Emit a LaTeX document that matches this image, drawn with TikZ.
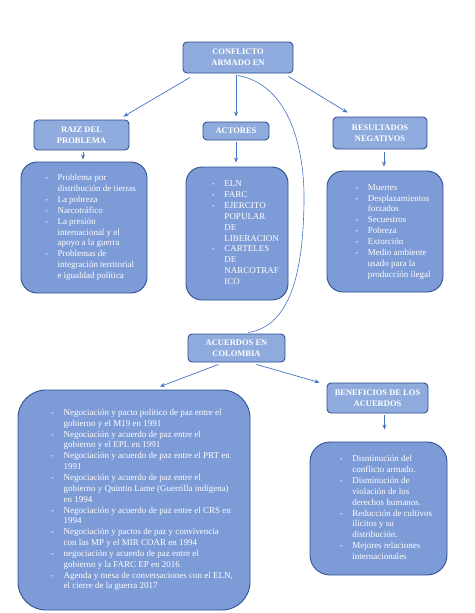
\documentclass[tikz,border=0pt]{standalone}
\usepackage{fontspec}
\setmainfont{Liberation Serif}
\usetikzlibrary{arrows.meta,calc}
\definecolor{hdrfill}{RGB}{143,170,220}
\definecolor{boxfill}{RGB}{125,155,214}
\definecolor{edgec}{RGB}{47,82,143}
\definecolor{arrowc}{RGB}{68,114,196}
\newcommand\dlist[1]{{\fontsize{9}{10.85}\selectfont\begin{tabular}{@{}l@{\hspace{9.5pt}}l@{}}#1\end{tabular}}}
\begin{document}
\begin{tikzpicture}[x=1pt,y=-1pt,
 hdr/.style={draw=edgec,fill=hdrfill,line width=0.9pt,rounded corners=4pt,inner sep=0pt,text=white,font=\bfseries\fontsize{8.5}{11}\selectfont,align=center},
 cbox/.style={draw=edgec,fill=boxfill,line width=0.9pt,rounded corners=16pt,inner sep=0pt,text=white},
 arr/.style={draw=arrowc,line width=0.7pt,-{Stealth[length=5pt,width=4pt]}},
 link/.style={draw=arrowc,line width=0.6pt}]
\fill[white] (0,0) rectangle (474,613);
\useasboundingbox (0,0) rectangle (474,613);
% headers
\node[hdr,minimum width=110pt,minimum height=31pt] (top) at (238,57.5) {CONFLICTO\\ARMADO EN};
\node[hdr,minimum width=95pt,minimum height=30pt] (raiz) at (81.5,135) {RAIZ DEL\\PROBLEMA};
\node[hdr,minimum width=66pt,minimum height=18pt] (actores) at (236,131) {ACTORES};
\node[hdr,minimum width=94pt,minimum height=32pt] (result) at (380,133) {RESULTADOS\\NEGATIVOS};
\node[hdr,minimum width=97pt,minimum height=28pt] (acu) at (236.5,348) {ACUERDOS EN\\COLOMBIA};
\node[hdr,minimum width=101pt,minimum height=30pt] (benef) at (377.5,398) {BENEFICIOS DE LOS\\ACUERDOS};
% content boxes
\node[cbox,minimum width=126pt,minimum height=131pt] (raizc) at (84,227.5) {\hspace{13pt}\dlist{- & Problema por\\ & distribución de tierras\\ - & La pobreza\\ - & Narcotráfico\\ - & La presión\\ & internacional y el\\ & apoyo a la guerra\\ - & Problemas de\\ & integración territorial\\ & e igualdad política}};
\node[cbox,minimum width=102pt,minimum height=133pt] (actc) at (237,233.5) {\hspace{17pt}\dlist{- & ELN\\ - & FARC\\ - & EJERCITO\\ & POPULAR\\ & DE\\ & LIBERACION\\ - & CARTELES\\ & DE\\ & NARCOTRAF\\ & ICO}};
\node[cbox,minimum width=116pt,minimum height=121pt] (resc) at (385,231.5) {\hspace{16pt}\dlist{- & Muertes\\ - & Desplazamientos\\ & forzados\\ - & Secuestros\\ - & Pobreza\\ - & Extorción\\ - & Medio ambiente\\ & usado para la\\ & producción ilegal}};
\node[cbox,rounded corners=28pt,minimum width=232pt,minimum height=220pt] (acuc) at (134,500) {\hspace{16pt}\dlist{- & Negociación y pacto político de paz entre el\\ & gobierno y el M19 en 1991\\ - & Negociación y acuerdo de paz entre el\\ & gobierno y el EPL en 1991\\ - & Negociación y acuerdo de paz entre el PRT en\\ & 1991\\ - & Negociación y acuerdo de paz entre el\\ & gobierno y Quintin Lame (Guerrilla indígena)\\ & en 1994\\ - & Negociación y acuerdo de paz entre el CRS en\\ & 1994\\ - & Negociación y pactos de paz y convivencia\\ & con las MP y el MIR COAR en 1994\\ - & negociación y acuerdo de paz entre el\\ & gobierno y la FARC EP en 2016\\ - & Agenda y mesa de conversaciones con el ELN,\\ & el cierre de la guerra 2017}};
\node[cbox,rounded corners=20pt,minimum width=137pt,minimum height=133pt] (benc) at (378.5,508.5) {\hspace{15pt}\dlist{- & Disminución del\\ & conflicto armado.\\ - & Disminución de\\ & violación de los\\ & derechos humanos.\\ - & Reducción de cultivos\\ & ilícitos y su\\ & distribución.\\ - & Mejores relaciones\\ & internacionales}};
% connectors
\draw[arr] ([xshift=-48pt,yshift=-4pt]top.south) -- ([xshift=-6pt,yshift=3pt]raiz.north east);
\draw[arr] ([yshift=-2pt]actores.north |- top.south) -- ([yshift=5pt]actores.north);
\draw[arr] ([xshift=-5pt,yshift=-3pt]top.south east) -- ([xshift=15pt,yshift=4pt]result.north west);
\draw[arr] ([xshift=1.5pt,yshift=-2pt]raiz.south) -- ([xshift=1.5pt,yshift=2pt]raiz.south |- raizc.north);
\draw[arr] ([yshift=-2pt]actores.south) -- ([yshift=4pt]actores.south |- actc.north);
\draw[arr] ([xshift=4pt,yshift=-3pt]result.south) -- ([xshift=4pt,yshift=4pt]result.south |- resc.north);
\draw[arr] ([xshift=-18pt,yshift=-2pt]acu.south) -- ([xshift=26pt,yshift=3pt]acuc.north);
\draw[arr] ([xshift=20pt,yshift=-2pt]acu.south) -- ([xshift=-7pt]benef.north west);
\draw[arr] ([xshift=7pt,yshift=-2pt]benef.south) -- ([xshift=7pt,yshift=12pt]benef.south |- benc.north);
\draw[link] ([yshift=-2pt]top.south) .. controls (290,85) and (305,150) .. (304,203) .. controls (303,260) and (295,325) .. ([xshift=12pt,yshift=1pt]acu.north);
\end{tikzpicture}
\end{document}
